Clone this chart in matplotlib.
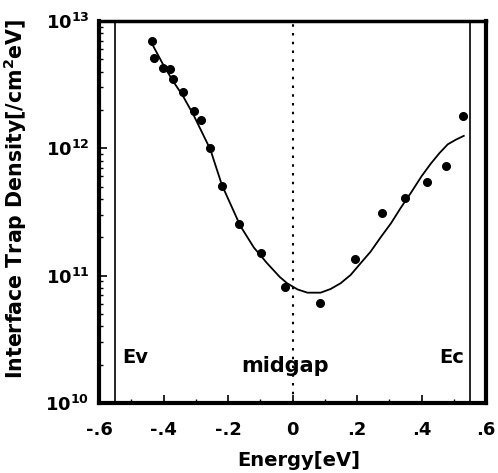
import numpy as np
import matplotlib
matplotlib.use("Agg")
import matplotlib.pyplot as plt
from matplotlib.ticker import FixedLocator, FuncFormatter, LogLocator, NullFormatter

plt.rcParams['font.family'] = ['DejaVu Sans']
plt.rcParams['font.weight'] = 'bold'
plt.rcParams['mathtext.fontset'] = 'custom'
plt.rcParams['mathtext.rm'] = 'DejaVu Sans:bold'
plt.rcParams['mathtext.bf'] = 'DejaVu Sans:bold'

# measured points
energy = [-0.436, -0.431, -0.402, -0.381, -0.372, -0.341, -0.307, -0.283, -0.255,
          -0.219, -0.166, -0.097, -0.022, 0.085, 0.194, 0.277, 0.350, 0.416, 0.477, 0.528]
dit = [7.0e12, 5.1e12, 4.3e12, 4.2e12, 3.5e12, 2.77e12, 1.97e12, 1.67e12, 1.0e12,
       5.06e11, 2.53e11, 1.51e11, 8.2e10, 6.1e10, 1.35e11, 3.1e11, 4.1e11, 5.4e11, 7.2e11, 1.8e12]

# fitted curve (log10 values)
fit_e = [-0.436, -0.40, -0.369, -0.34, -0.307, -0.255, -0.219, -0.162, -0.12, -0.079,
         -0.04, -0.017, 0.015, 0.046, 0.087, 0.118, 0.149, 0.180, 0.211, 0.242,
         0.273, 0.305, 0.335, 0.367, 0.40, 0.429, 0.455, 0.481, 0.505, 0.531]
fit_log = [12.82, 12.65, 12.52, 12.41, 12.26, 11.99, 11.71, 11.39, 11.22, 11.097,
           10.99, 10.94, 10.892, 10.866, 10.866, 10.895, 10.94, 11.005, 11.097, 11.188,
           11.30, 11.41, 11.53, 11.65, 11.78, 11.88, 11.96, 12.03, 12.065, 12.097]

ev, ec = -0.55, 0.55
xticks = [-0.6, -0.4, -0.2, 0, 0.2, 0.4, 0.6]
xtick_labels = ['-.6', '-.4', '-.2', '0', '.2', '.4', '.6']

fig = plt.figure(figsize=(4.98, 4.73), dpi=100)
ax = fig.add_axes([0.199, 0.148, 0.777, 0.808])

ax.plot(fit_e, 10 ** np.array(fit_log), color='black', lw=1.3)
ax.plot(energy, dit, 'o', color='black', ms=5.5)
ax.axvline(ev, color='black', lw=1.2)
ax.axvline(ec, color='black', lw=1.2)
ax.axvline(0, color='black', lw=1.5, ls=(0, (1.2, 3)))

ax.set_yscale('log')
ax.set_xlim(-0.6, 0.6)
ax.set_ylim(1e10, 1e13)

ax.xaxis.set_major_locator(FixedLocator(xticks))
ax.set_xticklabels(xtick_labels)
ax.xaxis.set_minor_locator(FixedLocator(np.arange(-0.6, 0.61, 0.1)))
ax.yaxis.set_major_locator(LogLocator(base=10, numticks=10))
ax.yaxis.set_major_formatter(FuncFormatter(lambda v, p: r'$10^{%d}$' % round(np.log10(v))))
ax.yaxis.set_minor_locator(LogLocator(base=10, subs=np.arange(2, 10), numticks=10))
ax.yaxis.set_minor_formatter(NullFormatter())

ax.tick_params(which='major', direction='in', length=6, width=1.2, labelsize=13,
               top=False, right=False)
ax.tick_params(axis='x', which='major', pad=13)
ax.tick_params(axis='y', which='major', pad=7)
ax.tick_params(which='minor', direction='in', length=3, width=1, top=False, right=False)
for lab in ax.get_xticklabels() + ax.get_yticklabels():
    lab.set_fontweight('bold')

for side in ['left', 'bottom', 'right']:
    ax.spines[side].set_linewidth(3)
ax.spines['top'].set_linewidth(2.5)

ax.text(-0.528, 2.06e10, 'Ev', fontsize=14, fontweight='bold')
ax.text(-0.022, 1.75e10, 'midgap', fontsize=15, fontweight='bold', ha='center')
ax.text(0.531, 2.06e10, 'Ec', fontsize=14, fontweight='bold', ha='right')

ax.set_xlabel('Energy[eV]', fontsize=14, fontweight='bold')
ax.set_ylabel('Interface Trap Density[/cm$^2$eV]', fontsize=14.8, fontweight='bold')
ax.xaxis.set_label_coords(0.515, -0.125)
ax.yaxis.set_label_coords(-0.18, 0.535)

fig.savefig('out.png', dpi=100)
